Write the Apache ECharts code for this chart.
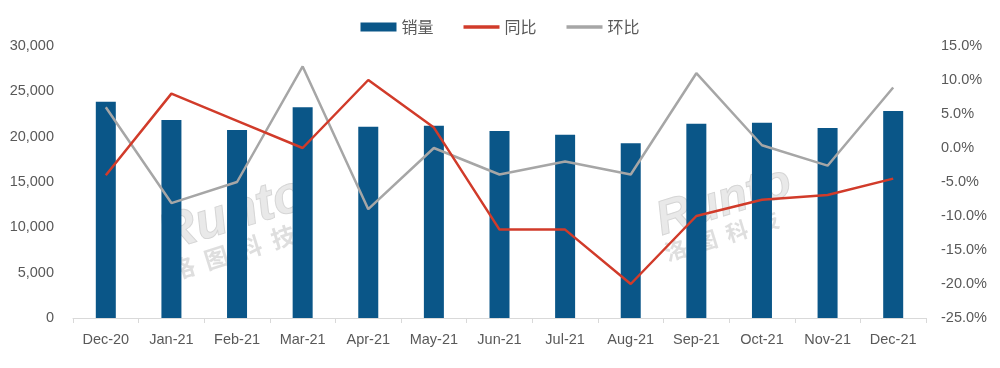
<!DOCTYPE html>
<html><head><meta charset="utf-8">
<script src="https://cdn.jsdelivr.net/npm/echarts@6/dist/echarts.min.js"></script>
<style>html,body{margin:0;padding:0;background:#fff}#c{width:1000px;height:368px}</style>
</head><body><div id="c"></div>
<script>
const categories = ['Dec-20','Jan-21','Feb-21','Mar-21','Apr-21','May-21','Jun-21','Jul-21','Aug-21','Sep-21','Oct-21','Nov-21','Dec-21'];
const sales = [23850, 21840, 20740, 23240, 21100, 21210, 20630, 20220, 19270, 21430, 21540, 20960, 22830];
const yoy = [-4.0, 8.0, 4.0, 0.0, 10.0, 3.0, -12.0, -12.0, -20.0, -10.0, -7.6, -6.9, -4.5];
const mom = [6.0, -8.1, -5.0, 12.0, -9.0, 0.0, -3.9, -2.0, -3.9, 11.0, 0.4, -2.6, 8.9];
const seriesNames = ['销量','同比','环比'];

const chart = echarts.init(document.getElementById('c'));
const lab = {color:'#595959', fontSize:14.5, fontFamily:'Liberation Sans, Arial, sans-serif'};
const wmLatin = {fill:'rgba(215,215,215,0.55)', stroke:'rgba(185,185,185,0.6)', lineWidth:1, fontFamily:'Liberation Sans, sans-serif', fontWeight:'bold', fontStyle:'italic'};
const wmCJK = {fill:'rgba(200,200,200,0.6)', fontFamily:'Noto Sans CJK SC', fontWeight:'bold'};
chart.setOption({
  animation:false,
  legend:{
    top:14, left:'center', itemGap:30, itemWidth:36, itemHeight:9,
    textStyle:{color:'#595959', fontSize:16, fontFamily:'Noto Sans CJK SC'},
    data:[{name:seriesNames[0], icon:'rect'},{name:seriesNames[1], icon:'path://M0,0H10V1H0Z'},{name:seriesNames[2], icon:'path://M0,0H10V1H0Z'}]
  },
  graphic:[
    {type:'text', left:152, top:168, rotation:0.3, style:Object.assign({text:'Runto', fontSize:52}, wmLatin), z:0},
    {type:'text', left:168, top:222, rotation:0.3, style:Object.assign({text:'洛  图  科  技', fontSize:24}, wmCJK), z:0},
    {type:'text', left:650, top:158, rotation:0.3, style:Object.assign({text:'Runto', fontSize:48}, wmLatin), z:0},
    {type:'text', left:662, top:208, rotation:0.3, style:Object.assign({text:'洛  图  科  技', fontSize:22}, wmCJK), z:0}
  ],
  grid:{left:73, right:74, top:46, bottom:50},
  xAxis:{
    type:'category', data:categories, boundaryGap:true,
    axisLine:{lineStyle:{color:'#D9D9D9', width:1}},
    axisTick:{show:true, length:5, lineStyle:{color:'#D9D9D9'}},
    axisLabel:Object.assign({margin:14}, lab)
  },
  yAxis:[
    {type:'value', min:0, max:30000, interval:5000, splitLine:{show:false}, axisLine:{show:false}, axisTick:{show:false},
     axisLabel:Object.assign({margin:19, formatter:v=>v.toLocaleString('en-US')}, lab)},
    {type:'value', min:-25, max:15, interval:5, splitLine:{show:false}, axisLine:{show:false}, axisTick:{show:false},
     axisLabel:Object.assign({margin:15, formatter:v=>v.toFixed(1)+'%'}, lab)}
  ],
  series:[
    {name:seriesNames[0], type:'bar', data:sales, barWidth:20, itemStyle:{color:'#0A5688'}, z:2},
    {name:seriesNames[1], type:'line', yAxisIndex:1, data:yoy, symbol:'none', lineStyle:{color:'#D13B2A', width:2.5}, itemStyle:{color:'#D13B2A'}, z:4},
    {name:seriesNames[2], type:'line', yAxisIndex:1, data:mom, symbol:'none', lineStyle:{color:'#A6A6A6', width:2.5}, itemStyle:{color:'#A6A6A6'}, z:3}
  ]
});
</script></body></html>
